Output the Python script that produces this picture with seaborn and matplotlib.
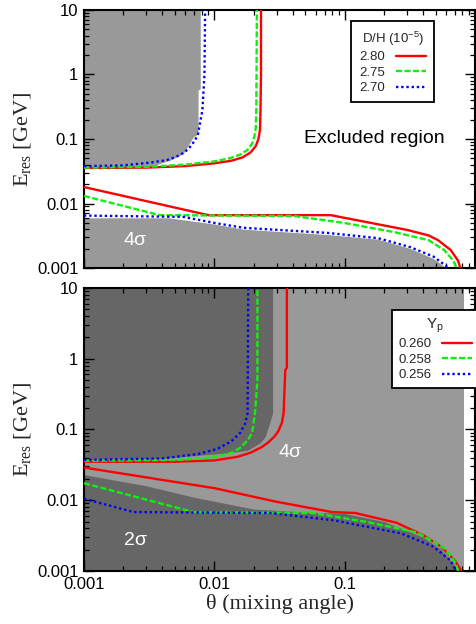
import matplotlib
matplotlib.use("Agg")
import matplotlib.pyplot as plt
import seaborn as sns

# ---------------- data ----------------
theta_min, theta_max_plot = 0.001, 1.0
e_min, e_max = 0.001, 10.0
theta_phys_max = 0.82

ytick_vals = [0.001, 0.01, 0.1, 1, 10]
ytick_labels = ["0.001", "0.01", "0.1", "1", "10"]
xtick_vals = [0.001, 0.01, 0.1, 1]
xtick_labels = ["0.001", "0.01", "0.1", ""]

# top panel: D/H
dh_labels = ["2.80", "2.75", "2.70"]
dh_up_x = [
    [0.001, 0.003, 0.006, 0.01, 0.0135, 0.0165, 0.019, 0.0208, 0.0218, 0.0224, 0.0226, 0.0228, 0.0228],
    [0.001, 0.003, 0.006, 0.01, 0.013, 0.016, 0.018, 0.0195, 0.0203, 0.0208, 0.021, 0.0212],
    [0.001, 0.002, 0.0032, 0.0043, 0.0051, 0.0059, 0.0065, 0.0071, 0.0075, 0.0081, 0.0084, 0.0085],
]
dh_up_y = [
    [0.0355, 0.036, 0.038, 0.042, 0.046, 0.052, 0.062, 0.078, 0.1, 0.14, 0.28, 1.0, 10],
    [0.036, 0.037, 0.040, 0.045, 0.05, 0.058, 0.068, 0.085, 0.11, 0.15, 0.3, 10],
    [0.038, 0.039, 0.043, 0.047, 0.053, 0.062, 0.075, 0.095, 0.12, 0.28, 1.0, 10],
]
dh_lo_x = [
    [0.001, 0.009, 0.078, 0.3, 0.44, 0.52, 0.65, 0.74, 0.77],
    [0.001, 0.0038, 0.041, 0.099, 0.24, 0.44, 0.58, 0.68, 0.72],
    [0.001, 0.0058, 0.01, 0.0167, 0.074, 0.18, 0.32, 0.48, 0.63],
]
dh_lo_y = [
    [0.018, 0.0066, 0.0066, 0.0039, 0.0032, 0.0027, 0.0019, 0.0013, 0.001],
    [0.0131, 0.0066, 0.0064, 0.005, 0.0036, 0.0027, 0.0019, 0.0013, 0.001],
    [0.0065, 0.0062, 0.005, 0.0042, 0.0035, 0.0029, 0.0021, 0.0015, 0.001],
]
# 4 sigma allowed region (top panel)
dh_reg_up_y = [0.037, 0.040, 0.047, 0.06, 0.108, 0.12, 0.57, 0.6, 10]
dh_reg_up_x = [0.003, 0.0036, 0.0046, 0.0058, 0.0069, 0.0075, 0.0075, 0.0078, 0.0078]
dh_reg_lo_x = [0.001, 0.0045, 0.01, 0.0167, 0.074, 0.18, 0.32, 0.48, 0.6]
dh_reg_lo_y = [0.006, 0.006, 0.0048, 0.0040, 0.0033, 0.0028, 0.0020, 0.0014, 0.001]

# bottom panel: Yp
yp_labels = ["0.260", "0.258", "0.256"]
yp_up_x = [
    [0.001, 0.005, 0.01, 0.015, 0.019, 0.023, 0.026, 0.029, 0.031, 0.033, 0.034, 0.035, 0.036, 0.036],
    [0.001, 0.005, 0.008, 0.011, 0.014, 0.016, 0.018, 0.0195, 0.0205, 0.0214, 0.0214],
    [0.001, 0.004, 0.0075, 0.0105, 0.0135, 0.0158, 0.0172, 0.018, 0.0182],
]
yp_up_y = [
    [0.035, 0.035, 0.0365, 0.041, 0.047, 0.056, 0.066, 0.08, 0.095, 0.125, 0.17, 0.69, 0.75, 10],
    [0.036, 0.037, 0.039, 0.042, 0.048, 0.056, 0.07, 0.09, 0.17, 0.5, 10],
    [0.037, 0.039, 0.045, 0.053, 0.068, 0.09, 0.12, 0.17, 10],
]
yp_lo_x = [
    [0.001, 0.01, 0.03, 0.08, 0.12, 0.25, 0.4, 0.55, 0.7, 0.76, 0.78],
    [0.001, 0.0069, 0.057, 0.15, 0.36, 0.58, 0.71, 0.74],
    [0.001, 0.0024, 0.027, 0.082, 0.15, 0.27, 0.48, 0.65, 0.71],
]
yp_lo_y = [
    [0.029, 0.0148, 0.0095, 0.0068, 0.0066, 0.0048, 0.0032, 0.0022, 0.0014, 0.0011, 0.001],
    [0.0174, 0.0068, 0.0066, 0.0049, 0.0035, 0.0021, 0.0013, 0.001],
    [0.0105, 0.0068, 0.0066, 0.0052, 0.0042, 0.0034, 0.0022, 0.0014, 0.001],
]
# 2 sigma allowed region (bottom panel)
yp_reg_up_y = [0.037, 0.041, 0.047, 0.051, 0.065, 0.08, 0.136, 0.17, 10]
yp_reg_up_x = [0.003, 0.0055, 0.0133, 0.018, 0.0225, 0.0246, 0.027, 0.028, 0.028]
yp_reg_lo_x = [0.001, 0.003, 0.007, 0.02, 0.05, 0.1, 0.2, 0.4, 0.55, 0.7, 0.74]
yp_reg_lo_y = [0.023, 0.016, 0.011, 0.0075, 0.0068, 0.0065, 0.005, 0.003, 0.002, 0.0012, 0.001]

# ---------------- style ----------------
sns.set_theme(style="ticks")
plt.rcParams["font.family"] = ["Liberation Sans", "DejaVu Sans"]
plt.rcParams["axes.linewidth"] = 1.5
plt.rcParams["axes.edgecolor"] = "black"

colors = ["#ff0000", "#11ee11", "#0000ff"]
styles = ["-", (0, (2.6, 1.0)), (0, (1.0, 1.2))]
LW = 1.7
SERIF = ["Liberation Serif", "DejaVu Serif"]

fig = plt.figure(figsize=(4.77, 6.24), dpi=100)
rect1 = [0.176, 0.5705, 0.820, 0.4135]
rect2 = [0.176, 0.085, 0.820, 0.4535]
ax1 = fig.add_axes(rect1)
ax2 = fig.add_axes(rect2)


def draw_lines(ax, up_x, up_y, lo_x, lo_y):
    handles = []
    for i in range(3):
        sns.lineplot(x=up_x[i], y=up_y[i], ax=ax, sort=False, estimator=None,
                     color=colors[i], linestyle=styles[i], lw=LW, legend=False, zorder=3)
        handles.append(ax.get_lines()[-1])
        sns.lineplot(x=lo_x[i], y=lo_y[i], ax=ax, sort=False, estimator=None,
                     color=colors[i], linestyle=styles[i], lw=LW, legend=False, zorder=3)
    return handles


def finish(ax, xlabels):
    ax.set_xlim(theta_min, theta_max_plot)
    ax.set_ylim(e_min, e_max)
    ax.set_axisbelow(False)
    ax.set_yticks(ytick_vals, labels=ytick_labels)
    ax.set_xticks(xtick_vals, labels=xtick_labels if xlabels else [""] * len(xtick_vals))
    ax.tick_params(which="both", direction="in", top=True, right=True,
                   bottom=True, left=True, colors="black", labelsize=12)
    ax.tick_params(which="major", length=7, width=1.0, pad=4)
    ax.tick_params(which="minor", length=3.5, width=0.9)
    ax.yaxis.get_major_ticks()
    ax.xaxis.get_major_ticks()
    ax.set_ylabel("$\\mathregular{E_{res}}$ [GeV]", fontsize=16, family=SERIF)
    ax.yaxis.set_label_coords(-0.13, 0.5)


# ---- top panel ----
ax1.set_xscale("log")
ax1.set_yscale("log")
ax1.fill_betweenx(dh_reg_up_y, 1e-4, dh_reg_up_x, color="#999999", lw=0, zorder=1)
ax1.fill_between(dh_reg_lo_x, 1e-4, dh_reg_lo_y, color="#999999", lw=0, zorder=1)
h1 = draw_lines(ax1, dh_up_x, dh_up_y, dh_lo_x, dh_lo_y)
finish(ax1, False)
leg1 = ax1.legend(h1, dh_labels, title="D/H (10$^{\\mathregular{-5}}$)", loc="upper left",
                  bbox_to_anchor=(0.667, 0.981), markerfirst=False, fancybox=False,
                  framealpha=1, edgecolor="black", fontsize=9.5, title_fontsize=9.5,
                  handlelength=2.3, labelspacing=0.25, borderpad=0.6, handletextpad=0.8)
leg1.get_frame().set_linewidth(1.3)
leg1.set_zorder(6)
ax1.text(0.17, 0.1, "Excluded region", fontsize=14, ha="center", va="center", color="black")
ax1.text(0.00247, 0.0027, "4σ", fontsize=14, ha="center", va="center", color="white")

# ---- bottom panel ----
ax2.set_xscale("log")
ax2.set_yscale("log")
ax2.axvspan(1e-4, theta_phys_max, color="#999999", lw=0, zorder=0.5)
ax2.fill_betweenx(yp_reg_up_y, 1e-4, yp_reg_up_x, color="#666666", lw=0, zorder=1)
ax2.fill_between(yp_reg_lo_x, 1e-4, yp_reg_lo_y, color="#666666", lw=0, zorder=1)
h2 = draw_lines(ax2, yp_up_x, yp_up_y, yp_lo_x, yp_lo_y)
finish(ax2, True)
leg2 = ax2.legend(h2, yp_labels, title="Y$_{\\mathregular{p}}$", loc="upper left",
                  bbox_to_anchor=(0.77, 0.947), markerfirst=False, fancybox=False,
                  framealpha=1, edgecolor="black", fontsize=9.5, title_fontsize=11,
                  handlelength=2.3, labelspacing=0.25, borderpad=0.5, handletextpad=0.8)
leg2.get_frame().set_linewidth(1.3)
leg2.set_zorder(6)
ax2.text(0.038, 0.048, "4σ", fontsize=14, ha="center", va="center", color="white")
ax2.text(0.00247, 0.0027, "2σ", fontsize=14, ha="center", va="center", color="white")
ax2.set_xlabel("θ (mixing angle)", fontsize=16, family=SERIF, labelpad=2)

fig.savefig("out.png", dpi=100)
